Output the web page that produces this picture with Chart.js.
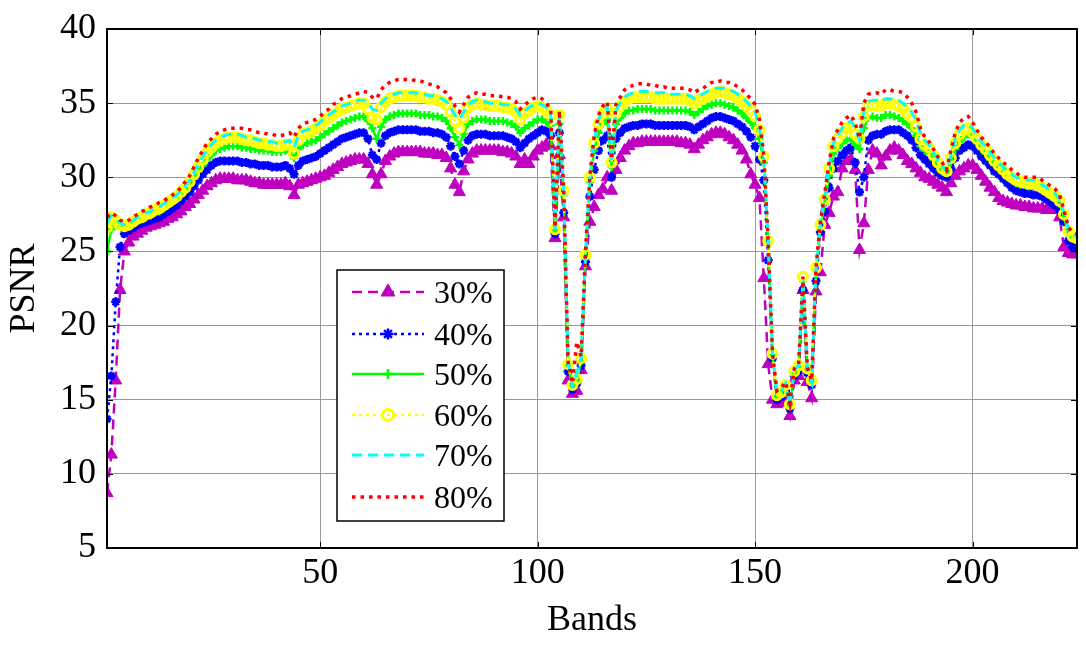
<!DOCTYPE html>
<html>
<head>
<meta charset="utf-8">
<script src="https://cdn.jsdelivr.net/npm/chart.js@4.4.0/dist/chart.umd.min.js"></script>
<style>
  html, body { margin: 0; padding: 0; background: #fff; }
  #psnrChart { display: block; }
</style>
</head>
<body>
<canvas id="psnrChart" width="1086" height="652"></canvas>
<script>
// band index 1..224
const bands = Array.from({ length: 224 }, (_, i) => i + 1);
const xTicks = [50, 100, 150, 200];
const yTicks = [5, 10, 15, 20, 25, 30, 35, 40];
const seriesNames = ["30%", "40%", "50%", "60%", "70%", "80%"];

const psnr30 = [
  8.7, 11.3, 16.3, 22.4, 25.0, 25.6, 26.0, 26.2, 26.4, 26.6,
  26.7, 26.8, 26.9, 27.0, 27.2, 27.3, 27.5, 27.7, 28.0, 28.2,
  28.5, 28.8, 29.1, 29.4, 29.6, 29.8, 29.9, 29.9, 29.9, 29.9,
  29.8, 29.8, 29.8, 29.7, 29.6, 29.6, 29.5, 29.5, 29.5, 29.5,
  29.5, 29.6, 29.4, 28.8, 29.5, 29.6, 29.7, 29.8, 29.9, 30.0,
  30.1, 30.3, 30.5, 30.7, 30.9, 31.0, 31.1, 31.2, 31.2, 31.2,
  30.9, 30.2, 29.5, 30.2, 31.1, 31.4, 31.6, 31.7, 31.7, 31.7,
  31.7, 31.7, 31.7, 31.6, 31.6, 31.6, 31.5, 31.5, 31.3, 30.6,
  29.5, 29.0, 30.4, 31.2, 31.6, 31.8, 31.8, 31.8, 31.8, 31.8,
  31.8, 31.7, 31.7, 31.6, 31.4, 30.9, 31.2, 30.9, 31.4, 31.8,
  32.0, 32.2, 32.1, 25.9, 31.5, 27.3, 16.3, 15.4, 15.6, 17.0,
  24.0, 27.0, 28.0, 28.8, 29.2, 30.0, 29.1, 30.5, 31.3, 31.8,
  32.1, 32.3, 32.3, 32.4, 32.4, 32.4, 32.4, 32.4, 32.4, 32.4,
  32.4, 32.4, 32.3, 32.3, 32.2, 31.9, 32.2, 32.5, 32.7, 32.9,
  33.0, 33.0, 32.9, 32.7, 32.5, 32.2, 31.8, 31.2, 30.2, 29.5,
  28.6, 23.2, 17.4, 15.0, 14.7, 14.8, 15.0, 13.9, 16.3, 16.6,
  22.4, 16.2, 15.1, 22.3, 23.6, 26.8, 27.6, 28.7, 29.0, 30.6,
  31.1, 31.2, 30.5, 25.1, 26.9, 30.5, 31.8, 31.6, 30.8, 31.4,
  31.8, 32.0, 31.8, 31.5, 31.1, 30.9, 30.6, 30.3, 30.0, 29.9,
  29.7, 29.5, 29.3, 29.0, 29.6, 30.1, 30.4, 30.6, 30.8, 30.8,
  30.5, 30.1, 29.7, 29.3, 29.0, 28.6, 28.4, 28.3, 28.2, 28.1,
  28.1, 28.0, 28.0, 27.9, 27.9, 27.9, 27.8, 27.8, 27.8, 27.3,
  25.3, 24.9, 24.8, 24.8
];

const psnr40 = [
  13.7, 16.6, 21.6, 25.3, 26.2, 26.4, 26.6, 26.8, 26.9, 27.0,
  27.1, 27.2, 27.3, 27.5, 27.7, 27.9, 28.1, 28.4, 28.7, 29.0,
  29.4, 29.8, 30.2, 30.5, 30.8, 31.0, 31.1, 31.1, 31.1, 31.1,
  31.1, 31.0, 31.0, 30.9, 30.9, 30.8, 30.8, 30.8, 30.7, 30.7,
  30.7, 30.8, 30.6, 30.2, 30.8, 31.1, 31.2, 31.3, 31.4, 31.6,
  31.8, 32.0, 32.2, 32.4, 32.6, 32.7, 32.8, 32.9, 33.0, 33.0,
  32.6, 31.5, 31.2, 32.3, 32.8, 33.0, 33.1, 33.2, 33.2, 33.2,
  33.2, 33.2, 33.1, 33.1, 33.1, 33.0, 33.0, 32.9, 32.7, 32.1,
  31.4, 30.9, 31.8, 32.5, 32.8, 32.9, 32.9, 32.9, 32.8, 32.8,
  32.8, 32.8, 32.7, 32.6, 32.4, 32.0, 32.3, 32.6, 32.8, 33.0,
  33.2, 33.1, 32.8, 26.2, 33.0, 27.6, 16.9, 15.7, 16.1, 17.3,
  24.3, 28.7, 30.5, 31.8, 32.5, 32.8, 30.0, 32.6, 33.0, 33.3,
  33.4, 33.5, 33.5, 33.6, 33.6, 33.6, 33.5, 33.5, 33.5, 33.5,
  33.5, 33.5, 33.5, 33.5, 33.4, 33.2, 33.4, 33.6, 33.8, 34.0,
  34.1, 34.1, 34.0, 33.9, 33.8, 33.6, 33.4, 33.1, 32.7, 32.1,
  31.2, 29.8, 24.4, 17.8, 15.0, 15.2, 15.6, 14.4, 16.6, 16.9,
  22.4, 16.8, 16.0, 23.0, 26.3, 27.7, 29.3, 30.6, 31.1, 31.5,
  31.8, 32.0, 31.0, 29.0, 30.0, 32.5, 32.8, 32.9, 32.9, 33.1,
  33.2, 33.2, 33.2, 33.0, 32.8, 32.5, 32.0, 31.5, 31.2, 30.9,
  30.6, 30.3, 30.1, 30.0, 30.6, 31.3, 31.8, 32.0, 32.2, 32.1,
  31.8, 31.4, 31.1, 30.8, 30.4, 30.2, 29.9, 29.6, 29.3, 29.1,
  29.0, 28.9, 28.9, 28.8, 28.8, 28.7, 28.5, 28.3, 28.1, 27.8,
  27.0, 25.7, 25.3, 25.2
];

const psnr50 = [
  25.0, 26.5, 27.0, 26.7, 26.6, 26.7, 26.9, 27.1, 27.2, 27.3,
  27.4, 27.6, 27.7, 27.9, 28.1, 28.3, 28.5, 28.8, 29.1, 29.5,
  29.9, 30.4, 30.8, 31.2, 31.5, 31.8, 31.9, 32.0, 32.1, 32.1,
  32.1, 32.0, 32.0, 31.9, 31.9, 31.8, 31.8, 31.8, 31.7, 31.7,
  31.7, 31.8, 31.7, 31.3, 31.9, 32.2, 32.3, 32.4, 32.5, 32.7,
  32.9, 33.1, 33.3, 33.5, 33.7, 33.8, 33.9, 34.0, 34.1, 34.1,
  33.8, 33.3, 32.6, 33.4, 33.9, 34.1, 34.2, 34.3, 34.3, 34.3,
  34.3, 34.3, 34.2, 34.2, 34.2, 34.1, 34.1, 34.0, 33.8, 33.3,
  32.7, 32.2, 32.9, 33.6, 33.8, 33.9, 33.9, 33.9, 33.8, 33.8,
  33.8, 33.8, 33.7, 33.6, 33.4, 33.0, 33.3, 33.5, 33.7, 33.9,
  33.9, 33.7, 33.5, 26.4, 33.6, 28.8, 17.3, 15.9, 16.3, 17.6,
  24.6, 29.7, 31.8, 33.0, 33.6, 33.9, 30.7, 33.6, 34.0, 34.3,
  34.5, 34.5, 34.6, 34.6, 34.6, 34.6, 34.5, 34.5, 34.5, 34.5,
  34.5, 34.5, 34.5, 34.5, 34.4, 34.2, 34.4, 34.6, 34.8, 34.9,
  35.0, 35.0, 34.9, 34.8, 34.7, 34.5, 34.3, 34.0, 33.7, 33.3,
  32.6, 31.0, 25.5, 18.0, 15.2, 15.4, 15.9, 14.6, 16.8, 17.2,
  23.0, 17.0, 16.2, 23.7, 26.6, 28.2, 30.1, 31.6, 32.0, 32.3,
  32.5, 32.6, 32.2, 31.9, 33.3, 34.0, 34.1, 34.0, 34.0, 34.2,
  34.2, 34.1, 34.0, 33.8, 33.6, 33.3, 32.8, 32.1, 31.8, 31.6,
  31.2, 30.8, 30.4, 30.3, 31.0, 31.9, 32.4, 32.7, 32.9, 32.7,
  32.3, 31.9, 31.6, 31.2, 30.9, 30.6, 30.3, 30.0, 29.8, 29.6,
  29.5, 29.5, 29.4, 29.4, 29.3, 29.1, 28.9, 28.7, 28.5, 28.2,
  27.3, 26.2, 25.9, 25.8
];

const psnr60 = [
  26.6, 27.3, 27.1, 26.8, 26.7, 26.8, 27.0, 27.2, 27.3, 27.5,
  27.6, 27.8, 27.9, 28.1, 28.3, 28.5, 28.7, 29.0, 29.3, 29.7,
  30.2, 30.7, 31.2, 31.7, 32.0, 32.3, 32.5, 32.6, 32.7, 32.7,
  32.7, 32.6, 32.5, 32.5, 32.4, 32.3, 32.3, 32.2, 32.2, 32.1,
  32.1, 32.2, 32.2, 31.6, 32.5, 32.9, 33.0, 33.1, 33.3, 33.5,
  33.8, 34.0, 34.2, 34.4, 34.6, 34.7, 34.8, 34.9, 35.0, 35.0,
  34.6, 34.0, 33.9, 34.7, 35.1, 35.3, 35.4, 35.5, 35.5, 35.5,
  35.5, 35.5, 35.4, 35.4, 35.3, 35.3, 35.2, 35.1, 34.9, 34.4,
  33.8, 33.3, 34.0, 34.7, 34.9, 35.0, 34.9, 34.9, 34.8, 34.8,
  34.8, 34.7, 34.7, 34.6, 34.4, 33.9, 34.3, 34.5, 34.7, 34.8,
  34.7, 34.5, 34.2, 26.5, 34.2, 29.1, 17.4, 16.0, 16.4, 17.8,
  24.8, 30.0, 32.3, 33.6, 34.3, 34.6, 31.0, 34.3, 34.8, 35.1,
  35.3, 35.4, 35.4, 35.4, 35.4, 35.4, 35.3, 35.3, 35.3, 35.3,
  35.3, 35.3, 35.3, 35.3, 35.2, 35.0, 35.2, 35.3, 35.5, 35.6,
  35.7, 35.8, 35.7, 35.6, 35.5, 35.3, 35.1, 34.8, 34.5, 34.1,
  33.2, 31.4, 25.7, 18.1, 15.3, 15.5, 16.0, 14.7, 16.9, 17.3,
  23.3, 17.1, 16.3, 23.9, 26.8, 28.5, 30.6, 32.1, 32.6, 33.0,
  33.3, 33.4, 32.9, 32.6, 34.1, 34.8, 34.9, 34.8, 34.8, 35.0,
  35.0, 34.9, 34.8, 34.6, 34.3, 34.0, 33.4, 32.6, 32.2, 32.0,
  31.5, 31.0, 30.6, 30.4, 31.3, 32.3, 32.9, 33.2, 33.3, 33.0,
  32.6, 32.2, 31.9, 31.5, 31.1, 30.8, 30.5, 30.2, 30.0, 29.8,
  29.7, 29.7, 29.6, 29.6, 29.5, 29.3, 29.1, 28.9, 28.7, 28.4,
  27.5, 26.4, 26.0, 25.9
];

const psnr70 = [
  26.9, 27.4, 27.2, 26.9, 26.8, 26.9, 27.1, 27.3, 27.4, 27.6,
  27.7, 27.9, 28.0, 28.2, 28.4, 28.6, 28.8, 29.1, 29.4, 29.8,
  30.3, 30.9, 31.4, 31.9, 32.2, 32.5, 32.7, 32.8, 32.9, 32.9,
  32.9, 32.8, 32.7, 32.7, 32.6, 32.5, 32.5, 32.4, 32.4, 32.3,
  32.3, 32.4, 32.5, 32.0, 32.8, 33.1, 33.2, 33.3, 33.5, 33.7,
  34.0, 34.2, 34.4, 34.6, 34.8, 34.9, 35.0, 35.1, 35.2, 35.2,
  35.0, 34.6, 34.5, 35.0, 35.3, 35.5, 35.6, 35.7, 35.7, 35.7,
  35.7, 35.7, 35.6, 35.6, 35.5, 35.5, 35.4, 35.3, 35.1, 34.7,
  34.2, 33.9, 34.4, 34.9, 35.1, 35.2, 35.1, 35.1, 35.0, 35.0,
  35.0, 34.9, 34.9, 34.8, 34.6, 34.2, 34.5, 34.7, 34.9, 35.0,
  34.9, 34.7, 34.4, 26.5, 34.3, 29.1, 17.5, 16.0, 16.8, 17.8,
  24.8, 30.0, 32.5, 33.9, 34.5, 34.8, 31.0, 34.5, 35.0, 35.4,
  35.6, 35.7, 35.8, 35.8, 35.8, 35.7, 35.7, 35.7, 35.7, 35.6,
  35.6, 35.6, 35.6, 35.6, 35.5, 35.3, 35.5, 35.6, 35.8, 35.9,
  36.0, 36.0, 36.0, 35.9, 35.8, 35.6, 35.4, 35.1, 34.8, 34.4,
  33.4, 31.3, 25.7, 18.1, 15.5, 15.6, 16.1, 14.7, 17.0, 17.3,
  23.2, 17.1, 16.2, 23.8, 26.9, 28.7, 30.8, 32.3, 32.9, 33.3,
  33.6, 33.8, 33.3, 32.5, 34.5, 35.1, 35.2, 35.2, 35.1, 35.3,
  35.3, 35.2, 35.2, 35.0, 34.7, 34.4, 33.8, 33.0, 32.5, 32.2,
  31.7, 31.2, 30.8, 30.4, 31.5, 32.6, 33.2, 33.5, 33.6, 33.3,
  32.8, 32.4, 32.1, 31.7, 31.3, 31.0, 30.7, 30.4, 30.2, 30.0,
  29.9, 29.8, 29.8, 29.8, 29.7, 29.5, 29.3, 29.1, 28.9, 28.5,
  27.6, 26.5, 26.1, 26.0
];

const psnr80 = [
  27.3, 27.6, 27.4, 27.1, 27.0, 27.1, 27.3, 27.5, 27.7, 27.8,
  28.0, 28.1, 28.3, 28.4, 28.6, 28.8, 29.0, 29.3, 29.7, 30.1,
  30.7, 31.3, 31.8, 32.3, 32.6, 32.9, 33.1, 33.2, 33.3, 33.3,
  33.3, 33.3, 33.2, 33.2, 33.1, 33.0, 33.0, 32.9, 32.9, 32.8,
  32.8, 32.9, 33.0, 32.7, 33.3, 33.6, 33.7, 33.8, 33.9, 34.1,
  34.4, 34.6, 34.9, 35.1, 35.3, 35.4, 35.5, 35.6, 35.7, 35.8,
  35.7, 35.4, 35.3, 35.9, 36.2, 36.4, 36.5, 36.6, 36.6, 36.6,
  36.6, 36.5, 36.5, 36.4, 36.3, 36.2, 36.1, 35.9, 35.7, 35.3,
  34.8, 34.4, 34.9, 35.4, 35.6, 35.7, 35.6, 35.6, 35.5, 35.5,
  35.5, 35.4, 35.4, 35.3, 35.1, 34.6, 34.9, 35.1, 35.3, 35.4,
  35.3, 35.0, 34.6, 26.6, 34.5, 29.2, 17.6, 16.1, 18.9, 17.9,
  25.0, 30.1, 32.8, 34.2, 34.8, 35.1, 31.2, 34.9, 35.4, 35.9,
  36.1, 36.2, 36.3, 36.3, 36.3, 36.2, 36.2, 36.1, 36.1, 36.0,
  36.0, 36.0, 36.0, 36.0, 35.9, 35.7, 35.9, 36.0, 36.2, 36.4,
  36.4, 36.5, 36.4, 36.4, 36.3, 36.1, 35.9, 35.6, 35.3, 34.9,
  33.9, 31.5, 25.7, 18.1, 15.6, 15.8, 16.2, 14.8, 17.1, 17.4,
  23.3, 17.2, 16.3, 23.9, 27.0, 28.9, 31.0, 32.6, 33.2, 33.7,
  34.0, 34.2, 33.7, 32.6, 35.0, 35.6, 35.7, 35.7, 35.6, 35.9,
  35.9, 35.8, 35.8, 35.7, 35.4, 35.0, 34.4, 33.3, 32.7, 32.4,
  31.9, 31.4, 31.0, 30.5, 31.8, 33.0, 33.7, 34.0, 34.1, 33.7,
  33.2, 32.7, 32.4, 32.0, 31.6, 31.3, 31.0, 30.8, 30.5, 30.3,
  30.1, 30.0, 30.0, 30.0, 30.0, 29.8, 29.6, 29.4, 29.2, 28.8,
  27.8, 26.6, 26.3, 26.2
];

const seriesValues = [psnr30, psnr40, psnr50, psnr60, psnr70, psnr80];

const styles = [
  { color: "#bf00bf", dash: [10, 6], width: 2.5, marker: "triangle", radius: 7, fill: true, mWidth: 1 },
  { color: "#0000ff", dash: [3, 4], width: 2.5, marker: "star", radius: 4.5, fill: false, mWidth: 2.5 },
  { color: "#00ff00", dash: [], width: 2.5, marker: "cross", radius: 4, fill: false, mWidth: 2.5 },
  { color: "#ffff00", dash: [3, 4], width: 2.5, marker: "circle", radius: 4.5, fill: false, mWidth: 3 },
  { color: "#00ffff", dash: [10, 6], width: 3, marker: false, radius: 0, fill: false, mWidth: 0 },
  { color: "#ff0000", dash: [3.5, 5], width: 3.5, marker: false, radius: 0, fill: false, mWidth: 0 }
];

const serif = "'Times New Roman', 'Liberation Serif', serif";

const datasets = seriesNames.map((name, i) => ({
  label: name,
  data: bands.map((b, j) => ({ x: b, y: seriesValues[i][j] })),
  borderColor: styles[i].color,
  borderWidth: styles[i].width,
  borderDash: styles[i].dash,
  pointStyle: styles[i].marker,
  pointRadius: styles[i].radius,
  pointBorderColor: styles[i].color,
  pointBackgroundColor: styles[i].fill ? styles[i].color : "rgba(0,0,0,0)",
  pointBorderWidth: styles[i].mWidth,
  tension: 0,
  fill: false,
  order: seriesNames.length - i
}));

// box, inner tick marks and the legend inside the plot
const boxAndLegend = {
  id: "boxAndLegend",
  afterDraw(chart) {
    const ctx = chart.ctx;
    const area = chart.chartArea;
    const xs = chart.scales.x, ys = chart.scales.y;
    ctx.save();
    ctx.strokeStyle = "#000";
    ctx.lineWidth = 1;
    xTicks.forEach(t => {
      const px = Math.round(xs.getPixelForValue(t)) + 0.5;
      ctx.beginPath();
      ctx.moveTo(px, area.bottom); ctx.lineTo(px, area.bottom - 6);
      ctx.moveTo(px, area.top); ctx.lineTo(px, area.top + 6);
      ctx.stroke();
    });
    yTicks.forEach(t => {
      const py = Math.round(ys.getPixelForValue(t)) + 0.5;
      ctx.beginPath();
      ctx.moveTo(area.left, py); ctx.lineTo(area.left + 6, py);
      ctx.moveTo(area.right, py); ctx.lineTo(area.right - 6, py);
      ctx.stroke();
    });
    ctx.lineWidth = 2;
    ctx.strokeRect(area.left, area.top, area.right - area.left, area.bottom - area.top);

    // legend
    const box = { left: 337, top: 270, right: 504, bottom: 521 };
    ctx.fillStyle = "#fff";
    ctx.fillRect(box.left, box.top, box.right - box.left, box.bottom - box.top);
    ctx.lineWidth = 1.5;
    ctx.strokeStyle = "#000";
    ctx.strokeRect(box.left, box.top, box.right - box.left, box.bottom - box.top);
    const rowY = [292, 334, 374, 415, 455, 497];
    seriesNames.forEach((name, i) => {
      const s = styles[i];
      const y = rowY[i];
      ctx.save();
      ctx.strokeStyle = s.color;
      ctx.lineWidth = s.width;
      ctx.setLineDash(s.dash);
      ctx.beginPath();
      ctx.moveTo(352, y); ctx.lineTo(424, y);
      ctx.stroke();
      ctx.setLineDash([]);
      if (s.marker) {
        ctx.fillStyle = s.fill ? s.color : "rgba(0,0,0,0)";
        ctx.strokeStyle = s.color;
        ctx.lineWidth = s.mWidth;
        Chart.helpers.drawPoint(ctx, { pointStyle: s.marker, radius: s.radius + 1, rotation: 0, borderWidth: s.mWidth }, 388, y);
      }
      ctx.restore();
      ctx.fillStyle = "#000";
      ctx.font = "32px " + serif;
      ctx.textAlign = "left";
      ctx.textBaseline = "middle";
      ctx.fillText(name, 434, y + 3);
    });
    ctx.restore();
  }
};

new Chart(document.getElementById("psnrChart"), {
  type: "line",
  data: { datasets },
  options: {
    responsive: false,
    animation: false,
    events: [],
    layout: { padding: { top: 18, right: 9, left: 0, bottom: 0 } },
    plugins: {
      legend: { display: false },
      tooltip: { enabled: false }
    },
    scales: {
      x: {
        type: "linear",
        min: 1,
        max: 224,
        afterBuildTicks: scale => { scale.ticks = xTicks.map(v => ({ value: v })); },
        afterFit: scale => { scale.height = 104; },
        grid: { color: "#999999", lineWidth: 1, drawTicks: false },
        border: { display: false },
        ticks: {
          color: "#000",
          padding: 8,
          maxRotation: 0,
          font: { family: serif, size: 36, lineHeight: 1.0 }
        },
        title: {
          display: true,
          text: "Bands",
          color: "#000",
          padding: { top: 0, bottom: 10 },
          font: { family: serif, size: 36 }
        }
      },
      y: {
        min: 5,
        max: 40,
        afterBuildTicks: scale => { scale.ticks = yTicks.map(v => ({ value: v })); },
        afterFit: scale => { scale.width = 107; },
        grid: { color: "#999999", lineWidth: 1, drawTicks: false },
        border: { display: false },
        ticks: {
          color: "#000",
          padding: 11,
          font: { family: serif, size: 36, lineHeight: 1.0 }
        },
        title: {
          display: true,
          text: "PSNR",
          color: "#000",
          padding: { top: 3, bottom: 0 },
          font: { family: serif, size: 36 }
        }
      }
    }
  },
  plugins: [boxAndLegend]
});
</script>
</body>
</html>
